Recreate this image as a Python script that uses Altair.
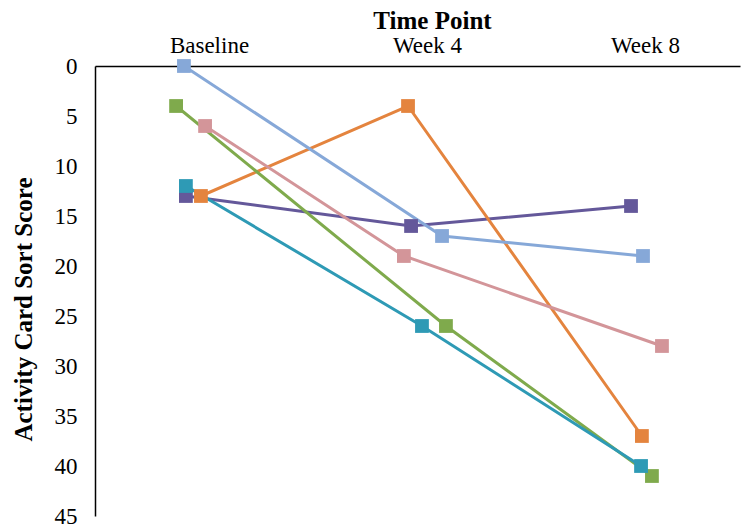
import altair as alt
import pandas as pd

time_points = ["Baseline", "Week 4", "Week 8"]
series = ["P1", "P2", "P3", "P4", "P5", "P6"]
colors = ["#64589A", "#E4843E", "#7FAA4C", "#D39599", "#2E9AB5", "#86A8D8"]

# Activity Card Sort scores per participant (Baseline, Week 4, Week 8)
scores = {
    "P1": [13, 16, 14],
    "P2": [13, 4, 37],
    "P3": [4, 26, 41],
    "P4": [6, 19, 28],
    "P5": [12, 26, 40],
    "P6": [0, 17, 19],
}
# small horizontal jitter seen in the reference, in category units
jitter = {
    "P1": [-0.106, -0.073, -0.064],
    "P2": [-0.037, -0.087, -0.014],
    "P3": [-0.151, 0.087, 0.032],
    "P4": [-0.018, -0.106, 0.078],
    "P5": [-0.106, -0.023, -0.018],
    "P6": [-0.115, 0.069, -0.009],
}

rows = []
for s in series:
    for i, tp in enumerate(time_points):
        rows.append({"series": s, "idx": i, "x": i + jitter[s][i],
                     "time": tp, "score": scores[s][i]})
df = pd.DataFrame(rows)

font = "Liberation Serif"
label_expr = "datum.value == 0 ? 'Baseline' : datum.value == 1 ? 'Week 4' : 'Week 8'"

chart = alt.Chart(df).mark_line(
    strokeWidth=3,
    point=alt.OverlayMarkDef(shape="square", size=190, filled=True, opacity=1),
).encode(
    x=alt.X("x:Q",
            scale=alt.Scale(domain=[-0.523, 2.436], nice=False, zero=False),
            axis=alt.Axis(orient="top", values=[0, 1, 2], labelExpr=label_expr,
                          title="Time Point", titleX=337, titleY=-46,
                          titleBaseline="middle", titleAlign="center",
                          ticks=False, grid=False, labelPadding=9)),
    y=alt.Y("score:Q",
            scale=alt.Scale(domain=[0, 45], reverse=True, nice=False),
            axis=alt.Axis(values=list(range(0, 50, 5)), title="Activity Card Sort Score",
                          titleX=-72, titleY=243, titleAngle=270,
                          titleBaseline="middle", titleAlign="center",
                          ticks=False, grid=False, labelPadding=18)),
    color=alt.Color("series:N", scale=alt.Scale(domain=series, range=colors), legend=None),
    detail="series:N",
    order="idx:Q",
).properties(
    width=645,
    height=450,
    autosize=alt.AutoSizeParams(type="none"),
    padding={"left": 87, "top": 58, "right": 2, "bottom": 14},
).configure_view(
    stroke=None
).configure_axis(
    labelFont=font, labelFontSize=23, labelColor="#000000",
    titleFont=font, titleFontSize=25, titleFontWeight="bold", titleColor="#000000",
    domainColor="#000000", domainWidth=1.5,
)

chart.save("out.html", embed_options={"renderer": "svg", "actions": False})
